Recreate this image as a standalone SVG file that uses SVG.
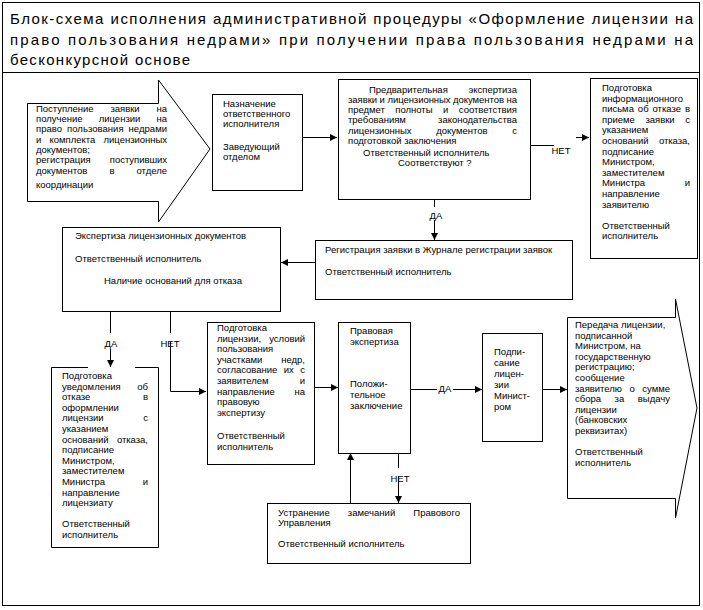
<svg xmlns="http://www.w3.org/2000/svg" width="703" height="610" viewBox="0 0 703 610">
<defs>
<marker id="ah" markerUnits="userSpaceOnUse" markerWidth="8" markerHeight="7" refX="7" refY="3.5" orient="auto">
<path d="M0,0 L7,3.5 L0,7 z" fill="#000"/>
</marker>
<style>
.b{fill:#fff;stroke:#000;stroke-width:1}
.l{fill:none;stroke:#000;stroke-width:1}
.a{fill:none;stroke:#000;stroke-width:1;marker-end:url(#ah)}
.t{font-family:"Liberation Sans",Arial,sans-serif;font-size:9.5px;fill:#000}
.h{font-family:"Liberation Sans",Arial,sans-serif;font-size:15px;fill:#000}
.m{text-anchor:middle}
</style>
</defs>
<rect x="0" y="0" width="703" height="610" fill="#fff"/>
<g id="frame">
<rect x="2.5" y="2.5" width="697" height="603" class="l"/>
<line x1="2.5" y1="72.5" x2="699.5" y2="72.5" class="l"/>
<text class="h" x="10" y="24" textLength="683" lengthAdjust="spacing">Блок-схема исполнения административной процедуры «Оформление лицензии на</text>
<text class="h" x="10" y="45" textLength="683" lengthAdjust="spacing">право пользования недрами» при получении права пользования недрами на</text>
<text class="h" x="10" y="65" textLength="180" lengthAdjust="spacing">бесконкурсной основе</text>
</g>
<g id="connectors">
<line x1="302" y1="137.5" x2="337" y2="137.5" class="a"/>
<line x1="530" y1="145.5" x2="554" y2="145.5" class="l"/>
<text class="t m" x="561" y="154">НЕТ</text>
<line x1="576" y1="137.5" x2="589" y2="137.5" class="a"/>
<line x1="434.5" y1="193" x2="434.5" y2="207" class="l"/>
<text class="t m" x="436" y="219">ДА</text>
<line x1="434.5" y1="220" x2="434.5" y2="240" class="a"/>
<line x1="315" y1="262.5" x2="281" y2="262.5" class="a"/>
<line x1="110.5" y1="311" x2="110.5" y2="333" class="l"/>
<text class="t m" x="111" y="347">ДА</text>
<line x1="110.5" y1="349" x2="110.5" y2="367" class="a"/>
<line x1="170.5" y1="311" x2="170.5" y2="333" class="l"/>
<text class="t m" x="170" y="347">НЕТ</text>
<polyline points="170.5,342 170.5,391.5 206,391.5" class="a"/>
<line x1="314" y1="387.5" x2="338" y2="387.5" class="a"/>
<line x1="410" y1="389.5" x2="437" y2="389.5" class="l"/>
<text class="t m" x="445" y="392">ДА</text>
<line x1="453" y1="389.5" x2="482" y2="389.5" class="a"/>
<line x1="542" y1="389.5" x2="567" y2="389.5" class="a"/>
<line x1="350.5" y1="503" x2="350.5" y2="453" class="a"/>
<line x1="398.5" y1="445" x2="398.5" y2="468" class="l"/>
<text class="t m" x="400" y="482">НЕТ</text>
<line x1="398.5" y1="476" x2="398.5" y2="503" class="a"/>
</g>
<g id="n1">
<polygon points="27.5,103.5 158.5,103.5 158.5,80 210,149 158.5,222 158.5,201.5 27.5,201.5" class="b"/>
<text class="t" x="36" y="112" textLength="131" lengthAdjust="spacing" word-spacing="14.3">Поступление заявки на</text>
<text class="t" x="36" y="122" textLength="131" lengthAdjust="spacing" word-spacing="13.5">получение лицензии на</text>
<text class="t" x="36" y="132" textLength="131" lengthAdjust="spacing" word-spacing="2.3">право пользования недрами</text>
<text class="t" x="36" y="143" textLength="131" lengthAdjust="spacing" word-spacing="5.7">и комплекта лицензионных</text>
<text class="t" x="36" y="153">документов;</text>
<text class="t" x="36" y="163" textLength="131" lengthAdjust="spacing" word-spacing="16.7">регистрация поступивших</text>
<text class="t" x="36" y="174" textLength="131" lengthAdjust="spacing" word-spacing="19.4">документов в отделе</text>
<text class="t" x="36" y="188">координации</text>
</g>
<g id="n2">
<rect x="212.5" y="94.5" width="90" height="96" class="b"/>
<text class="t" x="223" y="107">Назначение</text>
<text class="t" x="223" y="117">ответственного</text>
<text class="t" x="223" y="127">исполнителя</text>
<text class="t" x="223" y="150">Заведующий</text>
<text class="t" x="223" y="160">отделом</text>
</g>
<g id="n3">
<rect x="338.5" y="79.5" width="192" height="120" class="b"/>
<text class="t" x="369" y="93" textLength="148" lengthAdjust="spacing" word-spacing="18">Предварительная экспертиза</text>
<text class="t" x="348" y="103" textLength="169" lengthAdjust="spacing">заявки и лицензионных документов на</text>
<text class="t" x="348" y="113" textLength="169" lengthAdjust="spacing" word-spacing="7.9">предмет полноты и соответствия</text>
<text class="t" x="348" y="123" textLength="169" lengthAdjust="spacing" word-spacing="29.6">требованиям законодательства</text>
<text class="t" x="348" y="134" textLength="169" lengthAdjust="spacing" word-spacing="22.1">лицензионных документов с</text>
<text class="t" x="348" y="144">подготовкой заключения</text>
<text class="t" x="363" y="156">Ответственный исполнитель</text>
<text class="t" x="398" y="166">Соответствуют ?</text>
</g>
<g id="n4">
<rect x="590.5" y="78.5" width="107" height="180" class="b"/>
<text class="t" x="602" y="91">Подготовка</text>
<text class="t" x="602" y="101.6">информационного</text>
<text class="t" x="602" y="112.2" textLength="88" lengthAdjust="spacing" word-spacing="1.3">письма об отказе в</text>
<text class="t" x="602" y="122.8" textLength="88" lengthAdjust="spacing" word-spacing="8">приеме заявки с</text>
<text class="t" x="602" y="133.4">указанием</text>
<text class="t" x="602" y="144" textLength="88" lengthAdjust="spacing" word-spacing="7.8">оснований отказа,</text>
<text class="t" x="602" y="154.6">подписание</text>
<text class="t" x="602" y="165.2">Министром,</text>
<text class="t" x="602" y="175.8">заместителем</text>
<text class="t" x="602" y="186.4" textLength="88" lengthAdjust="spacing" word-spacing="37">Министра и</text>
<text class="t" x="602" y="197">направление</text>
<text class="t" x="602" y="207.6">заявителю</text>
<text class="t" x="602" y="228.8">Ответственный</text>
<text class="t" x="602" y="239.4">исполнитель</text>
</g>
<g id="n5">
<rect x="62.5" y="227.5" width="218" height="84" class="b"/>
<text class="t" x="75" y="239">Экспертиза лицензионных документов</text>
<text class="t" x="75" y="262">Ответственный исполнитель</text>
<text class="t" x="104" y="284">Наличие оснований для отказа</text>
</g>
<g id="n6">
<rect x="315.5" y="240.5" width="257" height="59" class="b"/>
<text class="t" x="325" y="253">Регистрация заявки в Журнале регистрации заявок</text>
<text class="t" x="325" y="275">Ответственный исполнитель</text>
</g>
<g id="n7">
<path d="M88,367.5 L51.5,367.5 L51.5,547.5 L158.5,547.5 L158.5,367.5 L135,367.5" class="b"/>
<text class="t" x="62" y="379">Подготовка</text>
<text class="t" x="62" y="389.6" textLength="86" lengthAdjust="spacing" word-spacing="13.9">уведомления об</text>
<text class="t" x="62" y="400.2" textLength="86" lengthAdjust="spacing" word-spacing="50">отказе в</text>
<text class="t" x="62" y="410.8">оформлении</text>
<text class="t" x="62" y="421.4" textLength="86" lengthAdjust="spacing" word-spacing="37">лицензии с</text>
<text class="t" x="62" y="432">указанием</text>
<text class="t" x="62" y="442.6" textLength="86" lengthAdjust="spacing" word-spacing="5.8">оснований отказа,</text>
<text class="t" x="62" y="453.2">подписание</text>
<text class="t" x="62" y="463.8">Министром,</text>
<text class="t" x="62" y="474.4">заместителем</text>
<text class="t" x="62" y="485" textLength="86" lengthAdjust="spacing" word-spacing="35">Министра и</text>
<text class="t" x="62" y="495.6">направление</text>
<text class="t" x="62" y="506.2">лицензиату</text>
<text class="t" x="62" y="527.4">Ответственный</text>
<text class="t" x="62" y="538">исполнитель</text>
</g>
<g id="n8">
<rect x="207.5" y="322.5" width="107" height="142" class="b"/>
<text class="t" x="217" y="331">Подготовка</text>
<text class="t" x="217" y="341.6" textLength="88" lengthAdjust="spacing" word-spacing="5.5">лицензии, условий</text>
<text class="t" x="217" y="352.2">пользования</text>
<text class="t" x="217" y="362.8" textLength="88" lengthAdjust="spacing" word-spacing="16.5">участками недр,</text>
<text class="t" x="217" y="373.4" textLength="88" lengthAdjust="spacing" word-spacing="3.8">согласование их с</text>
<text class="t" x="217" y="384" textLength="88" lengthAdjust="spacing" word-spacing="28.6">заявителем и</text>
<text class="t" x="217" y="394.6" textLength="88" lengthAdjust="spacing" word-spacing="17">направление на</text>
<text class="t" x="217" y="405.2">правовую</text>
<text class="t" x="217" y="415.8">экспертизу</text>
<text class="t" x="217" y="439">Ответственный</text>
<text class="t" x="217" y="450">исполнитель</text>
</g>
<g id="n9">
<rect x="338.5" y="322.5" width="72" height="131" class="b"/>
<text class="t" x="350" y="334">Правовая</text>
<text class="t" x="350" y="345">экспертиза</text>
<text class="t" x="350" y="387">Положи-</text>
<text class="t" x="350" y="398">тельное</text>
<text class="t" x="350" y="409">заключение</text>
</g>
<g id="n10">
<rect x="482.5" y="333.5" width="60" height="108" class="b"/>
<text class="t" x="494" y="355">Подпи-</text>
<text class="t" x="494" y="366">сание</text>
<text class="t" x="494" y="377">лицен-</text>
<text class="t" x="494" y="388">зии</text>
<text class="t" x="494" y="399">Минист-</text>
<text class="t" x="494" y="410">ром</text>
</g>
<g id="n11">
<polygon points="567.5,317.5 675.5,317.5 675.5,299 697,408 675.5,518 675.5,498.5 567.5,498.5" class="b"/>
<text class="t" x="575" y="328">Передача лицензии,</text>
<text class="t" x="575" y="338.6">подписанной</text>
<text class="t" x="575" y="349.2">Министром, на</text>
<text class="t" x="575" y="359.8">государственную</text>
<text class="t" x="575" y="370.4">регистрацию;</text>
<text class="t" x="575" y="381">сообщение</text>
<text class="t" x="575" y="391.6" textLength="95" lengthAdjust="spacing" word-spacing="4.9">заявителю о сумме</text>
<text class="t" x="575" y="402.2" textLength="95" lengthAdjust="spacing" word-spacing="10.8">сбора за выдачу</text>
<text class="t" x="575" y="412.8">лицензии</text>
<text class="t" x="575" y="423.4">(банковских</text>
<text class="t" x="575" y="434">реквизитах)</text>
<text class="t" x="575" y="455.2">Ответственный</text>
<text class="t" x="575" y="465.8">исполнитель</text>
</g>
<g id="n12">
<rect x="267.5" y="503.5" width="203" height="60" class="b"/>
<text class="t" x="278" y="516" textLength="182" lengthAdjust="spacing" word-spacing="15.4">Устранение замечаний Правового</text>
<text class="t" x="278" y="526">Управления</text>
<text class="t" x="278" y="547">Ответственный исполнитель</text>
</g>
</svg>
